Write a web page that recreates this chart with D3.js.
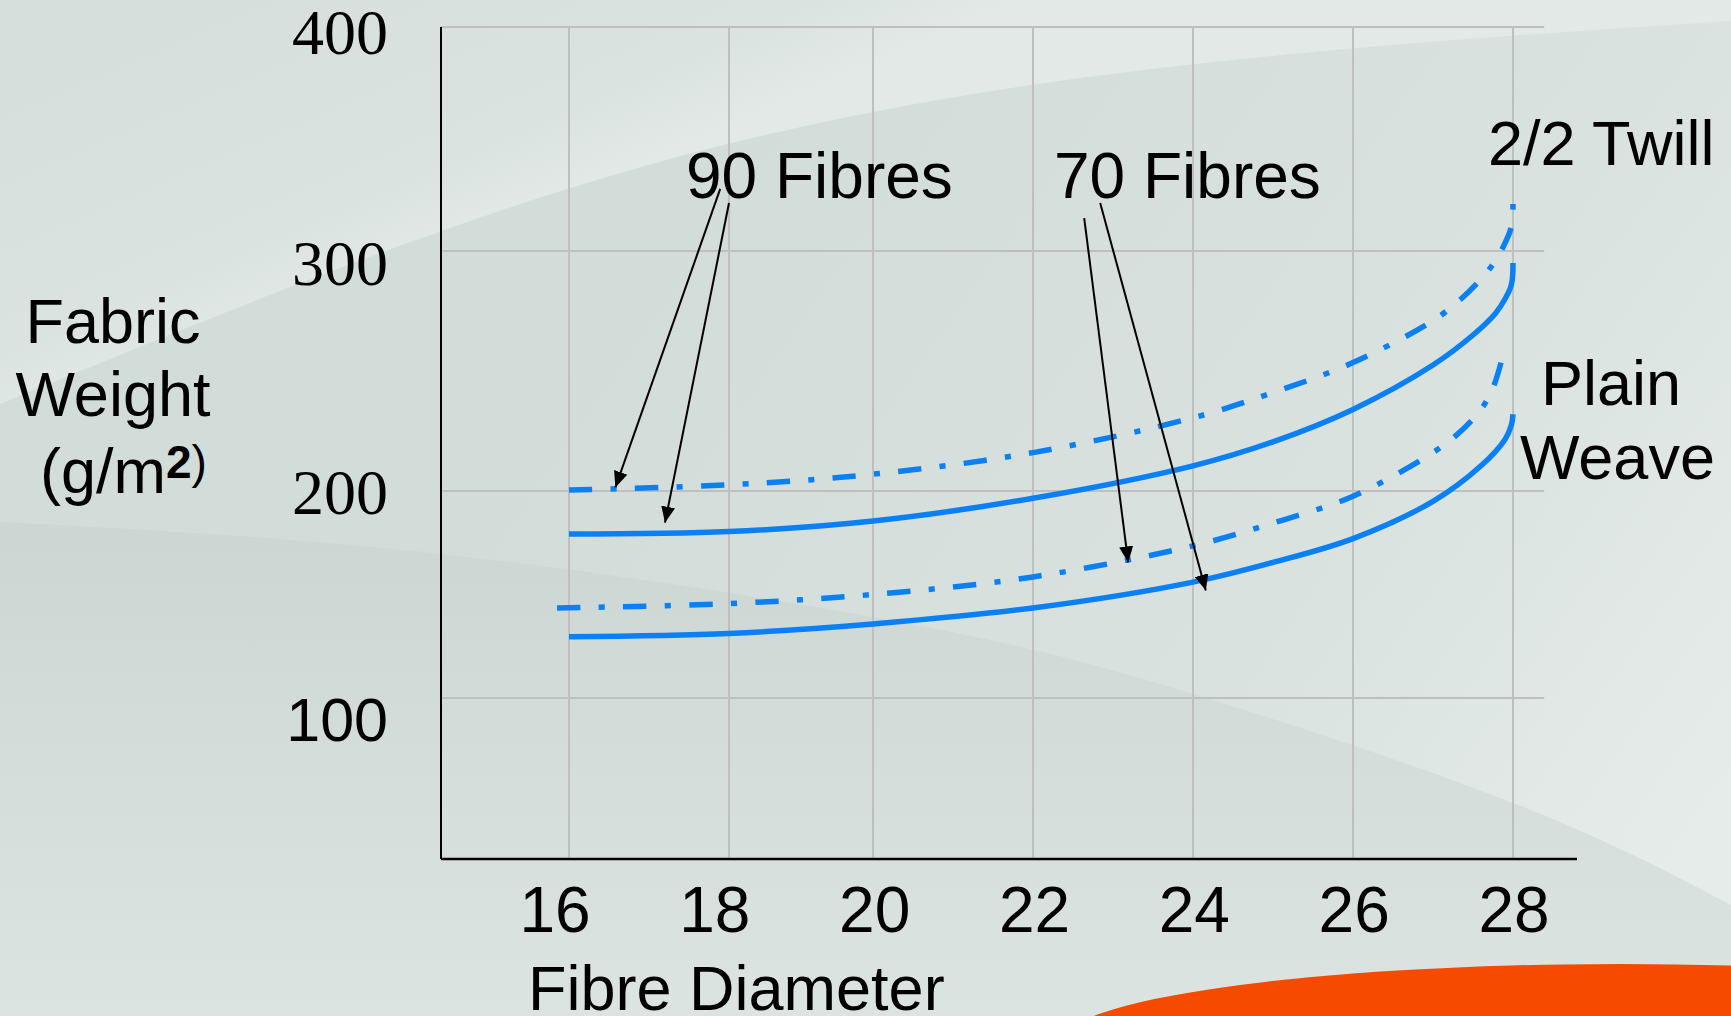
<!DOCTYPE html>
<html>
<head>
<meta charset="utf-8">
<script src="https://cdn.jsdelivr.net/npm/d3@7"></script>
<style>
  html, body { margin: 0; padding: 0; overflow: hidden; background: #d4deda; }
  svg { display: block; }
  .sans { font-family: "Liberation Sans", Arial, sans-serif; fill: #000; }
  .serif { font-family: "Liberation Serif", "Times New Roman", serif; fill: #000; }
</style>
</head>
<body>
<svg id="chart" width="1731" height="1016"></svg>
<script>
//-----------------------------------------------------//
// Data

const xTicks = [16, 18, 20, 22, 24, 26, 28];
const yTicks = [100, 200, 300, 400];

// upper pair (arrows from "90 Fibres")
const diameter90Dash  = [16, 18, 20, 22, 24, 25, 26, 27, 27.35, 27.55, 27.74, 27.88, 27.98, 28];
const weight90Dash    = [200.4, 202.6, 207, 216, 230.5, 241, 253.5, 271, 280, 286.5, 294, 302, 311, 321];
const diameter90Solid = [16, 18, 20, 22, 24, 25, 26, 27, 27.5, 27.78, 27.9, 27.98, 28];
const weight90Solid   = [179.2, 180.4, 185.5, 196.5, 210.5, 220.5, 234, 252.5, 265, 274, 280, 286, 295];

// lower pair (arrows from "70 Fibres")
const diameter70Dash  = [15.85, 16, 18, 20, 22, 24, 25, 26, 27, 27.3, 27.6, 27.75, 27.85];
const weight70Dash    = [143.5, 143.6, 145.6, 150, 158.5, 173.5, 184.5, 197.5, 216, 223.5, 234, 243, 253.5];
const diameter70Solid = [16, 18, 20, 22, 24, 25, 26, 27, 27.6, 27.9, 27.98, 28];
const weight70Solid   = [129.6, 131.2, 135.8, 143.5, 156, 165.5, 177, 195, 210.5, 221.5, 227.5, 232];

// annotation arrows, [diameter, weight]
const arrowFrom = [[17.89, 327.7], [18.0, 321.4], [22.64, 314.7], [22.84, 321.4]];
const arrowTo   = [[16.58, 201.5], [17.2, 184.7], [23.19, 165.5], [24.16, 151.9]];

//-----------------------------------------------------//

const svg = d3.select("#chart");
const W = 1731, H = 1016;

// The original grid is hand drawn and not evenly spaced, so piecewise scales
const x = d3.scaleLinear()
  .domain([14.4, 16, 18, 20, 22, 24, 26, 28, 28.8])
  .range([441, 569, 729, 873, 1033, 1193, 1353, 1513, 1577]);
const y = d3.scaleLinear()
  .domain([22.2, 100, 200, 300, 400])
  .range([859, 698, 491, 251, 27]);

// tick labels sit on their own (even) spacing
const xLabel = d3.scaleLinear().domain([16, 28]).range([555, 1514]);
const yLabel = d3.scaleLinear().domain([100, 200, 300, 400]).range([741, 514, 285, 54]);

const xMin = 14.4, xMax = 28.8, gridEnd = 28.39, yMin = 22.2, yMax = 400;

// Background
const defs = svg.append("defs");

const bgGrad = defs.append("linearGradient").attr("id", "bg")
  .attr("gradientUnits", "userSpaceOnUse")
  .attr("x1", 700).attr("y1", 150).attr("x2", 1700).attr("y2", 850);
bgGrad.append("stop").attr("offset", 0).attr("stop-color", "#d2dcd8");
bgGrad.append("stop").attr("offset", 0.6).attr("stop-color", "#d9e2df");
bgGrad.append("stop").attr("offset", 1).attr("stop-color", "#e6ecea");

const topGrad = defs.append("linearGradient").attr("id", "topArc")
  .attr("gradientUnits", "userSpaceOnUse")
  .attr("x1", 200).attr("y1", 0).attr("x2", 330).attr("y2", 300);
topGrad.append("stop").attr("offset", 0).attr("stop-color", "#d6dfdc");
topGrad.append("stop").attr("offset", 0.75).attr("stop-color", "#dbe3e0");
topGrad.append("stop").attr("offset", 1).attr("stop-color", "#e2e9e6");

const lowGrad = defs.append("linearGradient").attr("id", "lowArc")
  .attr("gradientUnits", "userSpaceOnUse")
  .attr("x1", 0).attr("y1", 540).attr("x2", 0).attr("y2", 1016);
lowGrad.append("stop").attr("offset", 0).attr("stop-color", "#ccd7d3");
lowGrad.append("stop").attr("offset", 1).attr("stop-color", "#dce4e1");

svg.append("rect").attr("width", W).attr("height", H).attr("fill", "url(#bg)");

const edge = d3.line().curve(d3.curveNatural);
const upperEdge = [[0, 404], [600, 179], [1160, 68], [1731, 21]];
const lowerEdge = [[0, 522], [441, 554], [900, 622], [1193, 694], [1513, 803], [1731, 905]];

svg.append("path")
  .attr("d", edge(upperEdge) + `L${W},0L0,0Z`)
  .attr("fill", "url(#topArc)");

svg.append("path")
  .attr("d", edge(lowerEdge) + `L${W},${H}L0,${H}Z`)
  .attr("fill", "url(#lowArc)");

// orange swoosh bottom right
svg.append("ellipse")
  .attr("cx", 1620).attr("cy", 1043).attr("rx", 560).attr("ry", 79)
  .attr("fill", "#f64a00");

// Grid
svg.append("g").selectAll("line")
  .data(yTicks)
  .enter().append("line")
  .attr("x1", x(xMin)).attr("x2", x(gridEnd))
  .attr("y1", d => y(d)).attr("y2", d => y(d))
  .attr("stroke", "#bfbfbf").attr("stroke-width", 2);

svg.append("g").selectAll("line")
  .data(xTicks)
  .enter().append("line")
  .attr("x1", d => x(d)).attr("x2", d => x(d))
  .attr("y1", y(yMax)).attr("y2", y(yMin))
  .attr("stroke", "#bfbfbf").attr("stroke-width", 2);

// Axes
svg.append("line")
  .attr("x1", x(xMin)).attr("x2", x(xMin))
  .attr("y1", y(yMax)).attr("y2", y(yMin))
  .attr("stroke", "#000").attr("stroke-width", 2);
svg.append("line")
  .attr("x1", x(xMin)).attr("x2", x(xMax))
  .attr("y1", y(yMin)).attr("y2", y(yMin))
  .attr("stroke", "#000").attr("stroke-width", 2.5);

// Tick labels
svg.append("g").selectAll("text")
  .data(xTicks)
  .enter().append("text")
  .attr("class", "sans")
  .attr("x", d => xLabel(d))
  .attr("y", 932)
  .attr("text-anchor", "middle")
  .style("font-size", "64px")
  .text(d => d);

// 400/300/200 are in a serif face, 100 is not (as in the original)
svg.append("g").selectAll("text")
  .data(yTicks)
  .enter().append("text")
  .attr("class", d => d === 100 ? "sans" : "serif")
  .attr("x", 388)
  .attr("y", d => yLabel(d))
  .attr("text-anchor", "end")
  .style("font-size", d => d === 100 ? "61px" : "64px")
  .text(d => d);

// Curves
const curve = (xs, ys) => d3.line()
  .x(i => x(xs[i]))
  .y(i => y(ys[i]))
  .curve(d3.curveCatmullRom.alpha(0.5))(d3.range(xs.length));

// endOn: where in the dash-dot pattern the line should stop (47 = after the dot, 23 = after a dash)
const series = [
  { xs: diameter90Dash,  ys: weight90Dash,  dash: true, endOn: 47 },
  { xs: diameter90Solid, ys: weight90Solid, dash: false },
  { xs: diameter70Dash,  ys: weight70Dash,  dash: true, endOn: 23 },
  { xs: diameter70Solid, ys: weight70Solid, dash: false }
];
const dashPattern = [23, 18, 6, 18];
const period = d3.sum(dashPattern);

const lines = svg.append("g").selectAll("path")
  .data(series)
  .enter().append("path")
  .attr("d", d => curve(d.xs, d.ys))
  .attr("fill", "none")
  .attr("stroke", "#0b80f4")
  .attr("stroke-width", 5.5);

// stretch the pattern a tiny bit so each dash-dot line starts on a dash and ends like the original
lines.filter(d => d.dash).each(function(d) {
  const len = this.getTotalLength();
  const n = Math.round((len - d.endOn) / period);
  const s = len / (n * period + d.endOn);
  d3.select(this).attr("stroke-dasharray", dashPattern.map(v => (v * s).toFixed(2)).join(","));
});

// Arrows
defs.append("marker")
  .attr("id", "head")
  .attr("markerUnits", "userSpaceOnUse")
  .attr("viewBox", "0 0 16 14")
  .attr("refX", 16).attr("refY", 7)
  .attr("markerWidth", 16).attr("markerHeight", 14)
  .attr("orient", "auto")
  .append("path")
  .attr("d", "M0,0L16,7L0,14Z")
  .attr("fill", "#000");

svg.append("g").selectAll("line")
  .data(d3.range(arrowFrom.length))
  .enter().append("line")
  .attr("x1", i => x(arrowFrom[i][0])).attr("y1", i => y(arrowFrom[i][1]))
  .attr("x2", i => x(arrowTo[i][0])).attr("y2", i => y(arrowTo[i][1]))
  .attr("stroke", "#000").attr("stroke-width", 2)
  .attr("marker-end", "url(#head)");

// Annotation text
const label = (t, px, py, size, anchor) => svg.append("text")
  .attr("class", "sans")
  .attr("x", px).attr("y", py)
  .attr("text-anchor", anchor || "start")
  .style("font-size", size + "px")
  .text(t);

label("90 Fibres", 686, 198, 64);
label("70 Fibres", 1054, 198, 64);
label("2/2 Twill", 1488, 165, 63);
label("Plain", 1541, 405, 63);
label("Weave", 1520, 479, 63);
label("Fibre Diameter", 528, 1010, 63);

label("Fabric", 113, 343, 63, "middle");
label("Weight", 113, 416, 63, "middle");

const unit = label("(g/m", 40, 493, 63);
unit.append("tspan").attr("dy", -15).style("font-size", "46px").style("font-weight", "bold").text("2");
unit.append("tspan").style("font-size", "46px").text(")");
</script>
</body>
</html>
